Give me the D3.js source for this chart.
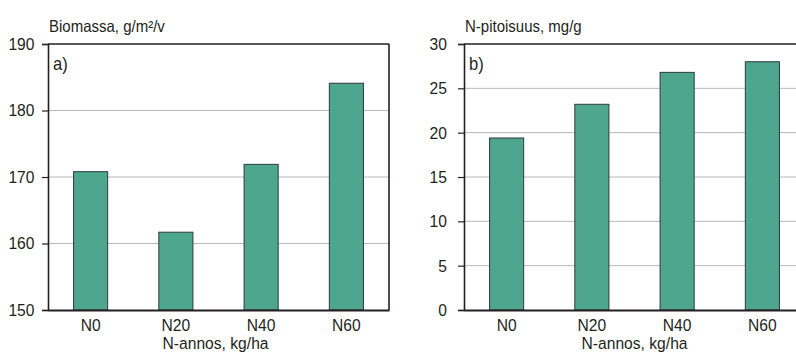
<!DOCTYPE html>
<html>
<head>
<meta charset="utf-8">
<script src="https://cdn.jsdelivr.net/npm/d3@7"></script>
<style>
  html, body { margin: 0; padding: 0; background: #fff; }
  svg { display: block; }
  text { font-family: "Liberation Sans", Arial, sans-serif; fill: #231f20; }
</style>
</head>
<body>
<svg id="chart" width="796" height="352"></svg>
<script>
// Fertilisation levels (N dose, kg/ha)
const categories = ["N0", "N20", "N40", "N60"];

// Panel a) biomass, g/m²/v
const biomass = [170.8, 161.7, 171.9, 184.1];
const biomassTicks = [150, 160, 170, 180, 190];

// Panel b) nitrogen content, mg/g
const nContent = [19.4, 23.2, 26.8, 28.0];
const nTicks = [0, 5, 10, 15, 20, 25, 30];

const xTitle = "N-annos, kg/ha";

const svg = d3.select("#chart");

const panels = [
  { left: 48, right: 389, frameRight: true, domain: [150, 190], ticks: biomassTicks,
    values: biomass, title: "Biomassa, g/m²/v", tag: "a)", labelGap: 7.5, titleShift: -3 },
  { left: 464, right: 805, frameRight: false, domain: [0, 30], ticks: nTicks,
    values: nContent, title: "N-pitoisuus, mg/g", tag: "b)", labelGap: 11, titleShift: 0 }
];

const plotTop = 44, plotBottom = 310;
const squeeze = 0.92; // narrow letterforms

// horizontally condense axis texts in place (keeps their anchor point)
function condense(sel) {
  sel.each(function () {
    const t = d3.select(this);
    const x = +t.attr("x") || 0;
    t.attr("x", x / squeeze).attr("transform", `scale(${squeeze},1)`);
  });
}

// free-standing condensed text
function label(g, x, y, size, str, anchor) {
  return g.append("text")
    .attr("transform", `translate(${x},${y}) scale(${squeeze},1)`)
    .attr("text-anchor", anchor || "start")
    .attr("font-size", size)
    .text(str);
}

panels.forEach(p => {
  const g = svg.append("g");

  const x = d3.scaleBand()
    .domain(categories)
    .range([p.left, p.right])
    .paddingInner(0.6)
    .paddingOuter(0.3);

  const y = d3.scaleLinear().domain(p.domain).range([plotBottom, plotTop]);

  // horizontal gridlines
  g.append("g")
    .selectAll("line")
    .data(p.ticks.slice(1, -1))
    .join("line")
    .attr("x1", p.left).attr("x2", p.right)
    .attr("y1", d => y(d)).attr("y2", d => y(d))
    .attr("stroke", "#b8b8b8")
    .attr("stroke-width", 1);

  // bars
  g.append("g")
    .selectAll("rect")
    .data(p.values)
    .join("rect")
    .attr("x", (d, i) => x(categories[i]))
    .attr("width", x.bandwidth())
    .attr("y", d => y(d))
    .attr("height", d => plotBottom - y(d))
    .attr("fill", "#4fa68f")
    .attr("stroke", "#2f3a36")
    .attr("stroke-width", 1);

  // frame: top (and right for panel a)
  const frame = g.append("g").attr("stroke", "#231f20").attr("stroke-width", 1.6).attr("fill", "none");
  frame.append("line").attr("x1", p.left).attr("x2", p.right).attr("y1", plotTop).attr("y2", plotTop);
  if (p.frameRight) {
    frame.append("line").attr("x1", p.right).attr("x2", p.right).attr("y1", plotTop).attr("y2", plotBottom);
  }

  // y axis
  const yAxis = g.append("g")
    .attr("transform", `translate(${p.left},0)`)
    .call(d3.axisLeft(y).tickValues(p.ticks).tickSize(6).tickPadding(p.labelGap).tickFormat(d3.format("d")));
  yAxis.select(".domain").attr("stroke", "#231f20").attr("stroke-width", 1.6);
  yAxis.selectAll(".tick line").attr("stroke", "#231f20").attr("stroke-width", 1.2);
  yAxis.selectAll(".tick text").attr("font-size", 17).attr("fill", "#231f20")
    .style("font-family", "'Liberation Sans', Arial, sans-serif").call(condense);

  // x axis
  const xAxis = g.append("g")
    .attr("transform", `translate(0,${plotBottom})`)
    .call(d3.axisBottom(x).tickSize(0).tickPadding(9));
  xAxis.select(".domain").attr("stroke", "#231f20").attr("stroke-width", 1.8);
  xAxis.selectAll(".tick text").attr("font-size", 17).attr("fill", "#231f20")
    .style("font-family", "'Liberation Sans', Arial, sans-serif").call(condense);

  // x axis title
  label(g, (p.left + p.right) / 2 + p.titleShift, 349, 17, xTitle, "middle");

  // panel title above the plot
  label(g, p.left + 1, 31.5, 16.3, p.title);

  // panel tag
  label(g, p.left + 5, 70, 18, p.tag);
});
</script>
</body>
</html>
